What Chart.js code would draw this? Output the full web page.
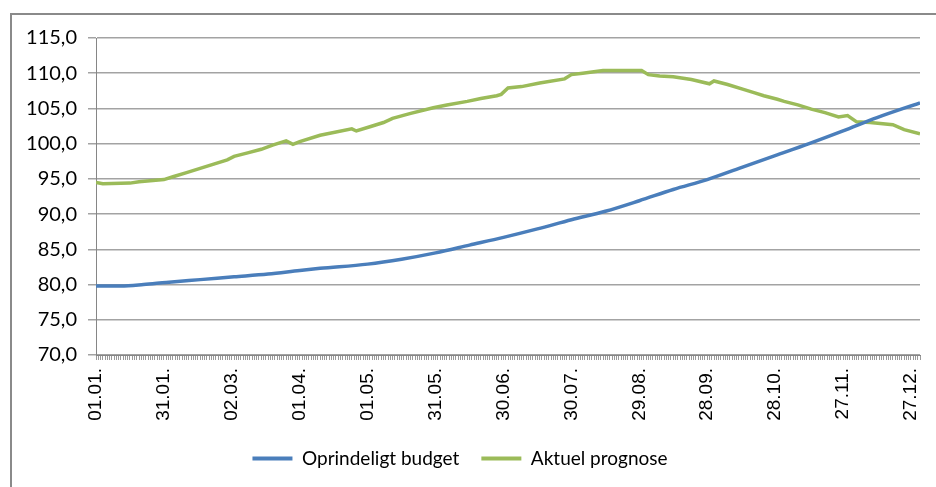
<!DOCTYPE html>
<html>
<head>
<meta charset="utf-8">
<script src="https://cdn.jsdelivr.net/npm/chart.js@4/dist/chart.umd.min.js"></script>
<style>
  html, body { margin: 0; padding: 0; background: #fff; }
  #wrap { position: relative; width: 936px; height: 487px; overflow: hidden; }
  #frame { position: absolute; left: 10px; top: 13px; width: 940px; height: 490px; border: 2px solid #8a8a8a; }
  #chart { position: absolute; left: 0; top: 0; }
</style>
</head>
<body>
<div id="wrap">
  <div id="frame"></div>
  <canvas id="chart" width="936" height="487"></canvas>
</div>
<script>
// one tick label every 30 days, day 0 = 01.01., day 364 = 31.12.
const tickLabels = ['01.01.', '31.01.', '02.03.', '01.04.', '01.05.', '31.05.', '30.06.',
  '30.07.', '29.08.', '28.09.', '28.10.', '27.11.', '27.12.'];
const lastDay = 364;

const budgetDays = [0, 11, 21, 31, 46, 61, 76, 90, 99, 120, 135, 150, 165, 180, 195, 210,
  225, 240, 255, 270, 285, 300, 315, 330, 345, 364];
const budgetValues = [79.8, 79.8, 80.0, 80.3, 80.7, 81.1, 81.5, 82.0, 82.3, 82.9, 83.6, 84.5,
  85.6, 86.7, 87.9, 89.2, 90.4, 91.9, 93.5, 94.9, 96.6, 98.3, 100.0, 101.8, 103.7, 105.8];

const prognoseDays = [0, 3, 15, 19, 30, 34, 40, 46, 52, 58, 61, 67, 73, 78, 84, 87, 90, 99,
  113, 115, 121, 127, 131, 139, 149, 155, 164, 170, 177, 179, 182, 188, 196, 207, 210, 215,
  224, 232, 241, 244, 249, 255, 263, 271, 273, 279, 286, 291, 295, 301, 304, 310, 316, 322,
  328, 332, 336, 342, 352, 357, 364];
const prognoseValues = [94.5, 94.3, 94.4, 94.6, 94.9, 95.3, 95.9, 96.5, 97.1, 97.7, 98.2,
  98.7, 99.2, 99.8, 100.4, 99.9, 100.3, 101.2, 102.1, 101.8, 102.4, 103.0, 103.6, 104.3,
  105.1, 105.5, 106.0, 106.4, 106.8, 107.0, 107.9, 108.1, 108.6, 109.2, 109.8, 110.0, 110.4,
  110.4, 110.4, 109.8, 109.6, 109.5, 109.1, 108.5, 108.9, 108.4, 107.7, 107.2, 106.8, 106.3,
  106.0, 105.5, 104.9, 104.4, 103.8, 104.0, 103.1, 103.0, 102.7, 102.0, 101.4];

const toPoints = (days, values) => days.map((d, i) => ({ x: d, y: values[i] }));

const gridColor = '#a3a3a3';
const axisColor = '#868686';

new Chart(document.getElementById('chart').getContext('2d'), {
  type: 'line',
  data: {
    datasets: [{
      label: 'Oprindeligt budget',
      data: toPoints(budgetDays, budgetValues),
      borderColor: '#4A7EBB',
      backgroundColor: '#4A7EBB',
      borderWidth: 3.5,
      pointRadius: 0,
      cubicInterpolationMode: 'monotone',
    }, {
      label: 'Aktuel prognose',
      data: toPoints(prognoseDays, prognoseValues),
      borderColor: '#9BBB59',
      backgroundColor: '#9BBB59',
      borderWidth: 3.5,
      pointRadius: 0,
      tension: 0,
    }],
  },
  options: {
    responsive: false,
    animation: false,
    layout: { padding: { top: 38, right: 16, left: 0, bottom: 9 } },
    plugins: {
      tooltip: { enabled: false },
      legend: {
        position: 'bottom',
        labels: {
          boxWidth: 40,
          boxHeight: 4,
          padding: 22,
          color: '#000',
          font: { family: 'Lato', size: 19 },
          generateLabels: (chart) => Chart.defaults.plugins.legend.labels.generateLabels(chart)
            .map(l => ({ ...l, lineWidth: 0 })),
        },
      },
    },
    scales: {
      x: {
        type: 'linear',
        min: 0,
        max: lastDay,
        afterFit: (scale) => {
          scale.height = 72;
          scale.paddingLeft = 0;
          scale.paddingRight = 0;
        },
        ticks: {
          stepSize: 1,
          autoSkip: false,
          minRotation: 90,
          maxRotation: 90,
          padding: 8,
          color: '#000',
          font: { family: 'Liberation Sans', size: 19 },
          callback: (v) => (v % 30 === 0 ? tickLabels[v / 30] : ''),
        },
        grid: { drawOnChartArea: false, tickLength: 5, color: '#9a9a9a', lineWidth: 1 },
        border: { color: axisColor, width: 1 },
      },
      y: {
        min: 70,
        max: 115,
        afterFit: (scale) => { scale.width = 96; },
        ticks: {
          stepSize: 5,
          padding: 11,
          color: '#000',
          font: { family: 'Lato', size: 20 },
          callback: (v) => v.toFixed(1).replace('.', ','),
        },
        grid: { color: gridColor, lineWidth: 1.5, tickLength: 8 },
        border: { color: axisColor, width: 1 },
      },
    },
  },
});
</script>
</body>
</html>
